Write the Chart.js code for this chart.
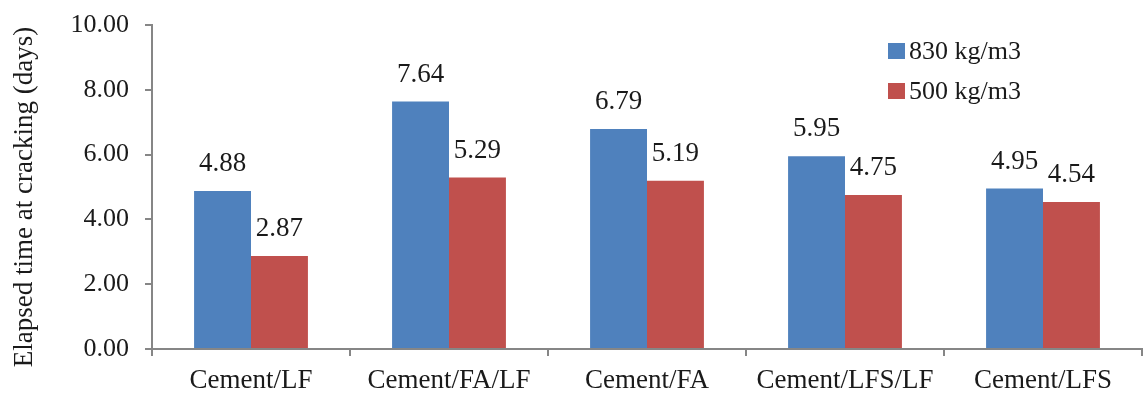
<!DOCTYPE html>
<html>
<head>
<meta charset="utf-8">
<script src="https://cdn.jsdelivr.net/npm/chart.js@4.4.1/dist/chart.umd.min.js"></script>
<style>
  html, body { margin: 0; padding: 0; background: #ffffff; }
  #wrap { width: 1144px; height: 394px; position: relative; }
</style>
</head>
<body>
<div id="wrap"><canvas id="chart" width="1144" height="394"></canvas></div>
<script>
// Mix categories
const categories = ['Cement/LF', 'Cement/FA/LF', 'Cement/FA', 'Cement/LFS/LF', 'Cement/LFS'];
// Elapsed time at cracking (days) per binder content
const series830 = [4.88, 7.64, 6.79, 5.95, 4.95];
const series500 = [2.87, 5.29, 5.19, 4.75, 4.54];
const seriesNames = ['830 kg/m3', '500 kg/m3'];
const yTicks = [0, 2, 4, 6, 8, 10];
const yTitle = 'Elapsed time at cracking (days)';

const FONT = "'Liberation Serif', 'Times New Roman', serif";
const TEXT = '#1a1a1a';
const AXIS_GREY = '#868686';

// Value labels above each bar
const valueLabels = {
  id: 'valueLabels',
  afterDatasetsDraw(chart) {
    const ctx = chart.ctx;
    ctx.save();
    ctx.font = '27px ' + FONT;
    ctx.fillStyle = TEXT;
    ctx.textAlign = 'center';
    ctx.textBaseline = 'middle';
    chart.data.datasets.forEach((ds, i) => {
      const meta = chart.getDatasetMeta(i);
      meta.data.forEach((el, j) => {
        ctx.fillText(ds.data[j].toFixed(2), el.x, el.y - 27);
      });
    });
    ctx.restore();
  }
};

// Legend drawn inside the plot, upper right
const insideLegend = {
  id: 'insideLegend',
  afterDraw(chart) {
    const ctx = chart.ctx;
    ctx.save();
    ctx.font = '26px ' + FONT;
    ctx.textBaseline = 'middle';
    ctx.textAlign = 'left';
    const x0 = 888, y0 = 51, rowGap = 40, box = 16;
    chart.data.datasets.forEach((ds, i) => {
      const cy = y0 + i * rowGap;
      ctx.fillStyle = ds.backgroundColor;
      ctx.fillRect(x0, cy - box / 2, box + 1, box);
      ctx.fillStyle = TEXT;
      ctx.fillText(ds.label, x0 + 21, cy + 1);
    });
    ctx.restore();
  }
};

// Rotated value-axis title
const axisTitle = {
  id: 'axisTitle',
  afterDraw(chart) {
    const ctx = chart.ctx;
    ctx.save();
    ctx.font = '27px ' + FONT;
    ctx.fillStyle = TEXT;
    ctx.textAlign = 'center';
    ctx.textBaseline = 'middle';
    ctx.translate(25, 197);
    ctx.rotate(-Math.PI / 2);
    ctx.fillText(yTitle, 0, 0);
    ctx.restore();
  }
};

new Chart(document.getElementById('chart'), {
  type: 'bar',
  data: {
    labels: categories,
    datasets: [
      { label: seriesNames[0], data: series830, backgroundColor: '#4F81BD', borderWidth: 0 },
      { label: seriesNames[1], data: series500, backgroundColor: '#C0504D', borderWidth: 0 }
    ]
  },
  options: {
    responsive: false,
    animation: false,
    devicePixelRatio: 1,
    layout: { padding: { top: 25, right: 2, bottom: 0, left: 0 } },
    datasets: { bar: { categoryPercentage: 0.575, barPercentage: 1.0 } },
    plugins: {
      legend: { display: false },
      tooltip: { enabled: false }
    },
    scales: {
      x: {
        grid: { offset: true, drawOnChartArea: false, drawTicks: true, tickLength: 7, color: AXIS_GREY, lineWidth: 2 },
        border: { color: AXIS_GREY, width: 2 },
        ticks: { color: TEXT, font: { family: FONT, size: 27 }, padding: 9, maxRotation: 0, autoSkip: false },
        afterFit(scale) {
          scale.height = 45;
          scale.paddingLeft = 0;
          scale.paddingRight = 0;
        }
      },
      y: {
        min: 0,
        max: 10,
        afterBuildTicks(scale) { scale.ticks = yTicks.map(v => ({ value: v })); },
        grid: { drawOnChartArea: false, drawTicks: true, tickLength: 7, color: AXIS_GREY, lineWidth: 2 },
        border: { color: AXIS_GREY, width: 2 },
        ticks: {
          color: TEXT,
          font: { family: FONT, size: 26 },
          padding: 16,
          callback: v => Number(v).toFixed(2)
        },
        afterFit(scale) {
          scale.width = 152;
          scale.paddingTop = 0;
          scale.paddingBottom = 0;
        }
      }
    }
  },
  plugins: [valueLabels, insideLegend, axisTitle]
});
</script>
</body>
</html>
